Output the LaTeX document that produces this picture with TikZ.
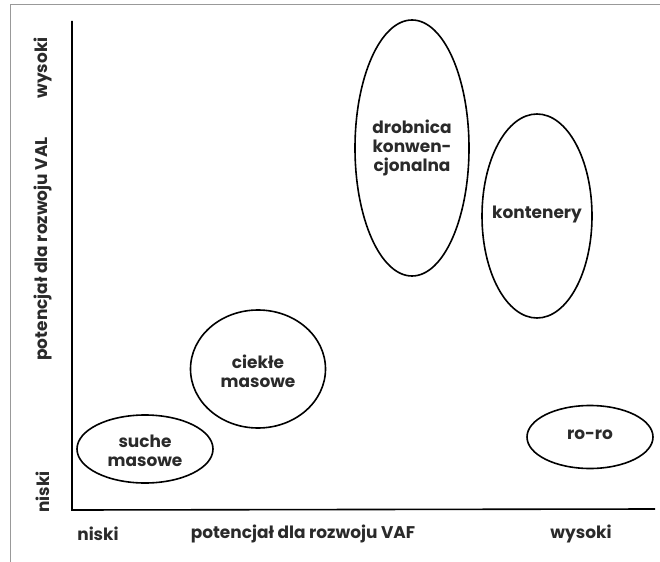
\documentclass[tikz,border=0pt]{standalone}
\usepackage{fontspec}
\setmainfont{Poppins}[UprightFont=* Bold]
\usetikzlibrary{shapes.geometric}
\definecolor{txt}{HTML}{2A2A2A}
\begin{document}
\begin{tikzpicture}[x=1bp,y=-1bp,
  blob/.style={draw=black,line width=1.6bp,ellipse,inner sep=0pt},
  lab/.style={text=txt,font=\fontsize{17}{19.5}\selectfont,align=center,inner sep=0pt},
  frameline/.style={draw=gray!80,line width=1bp}]
\useasboundingbox (0,0) rectangle (660,562);
\coordinate (ftl) at (10,5);
\coordinate (ftr) at (660,5);
\coordinate (fbl) at (10,562);
\draw[frameline] (ftr) -- (ftl) -- (fbl);
% axes
\coordinate (ytop) at (72,21);
\coordinate (org) at (72,510);
\coordinate (xend) at (655,509);
\draw[line width=1.6bp] (ytop) -- (org) -- (xend);
% ellipses
\node[blob,minimum width=136bp,minimum height=68bp] (suche) at (145,449) {};
\node[lab] at (145,451) {suche\\masowe};
\node[blob,minimum width=135bp,minimum height=118bp] (ciekle) at (258,369) {};
\node[lab] at (258,371) {ciekłe\\masowe};
\node[blob,minimum width=114bp,minimum height=256bp] (drob) at (412,148) {};
\node[lab] at (412,148) {drobnica\\konwen-\\cjonalna};
\node[blob,minimum width=110bp,minimum height=204bp] (kont) at (537,216) {};
\node[lab] at (537,214) {kontenery};
\node[blob,minimum width=126bp,minimum height=63bp] (roro) at (590,437) {};
\node[lab] at (590,435) {ro-ro};
% axis labels
\node[lab] (xl) at (98,534) {niski};
\node[lab] (xm) at (303,534) {potencjał dla rozwoju VAF};
\node[lab] (xh) at (581,534) {wysoki};
\node[lab,rotate=90] (yl) at (43,492) {niski};
\node[lab,rotate=90] (ym) at (43,249) {potencjał dla rozwoju VAL};
\node[lab,rotate=90] (yh) at (43,68) {wysoki};
\end{tikzpicture}
\end{document}
